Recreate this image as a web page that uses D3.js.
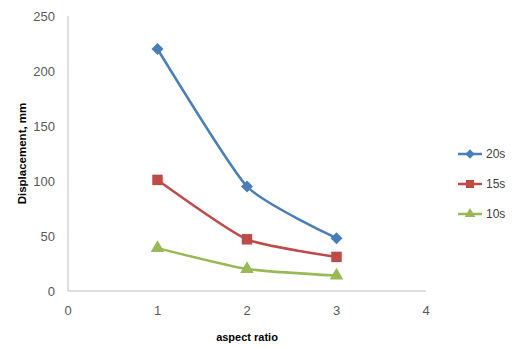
<!DOCTYPE html>
<html>
<head>
<meta charset="utf-8">
<script src="https://cdn.jsdelivr.net/npm/d3@7"></script>
<style>
  body { margin: 0; background: #fff; }
  svg { display: block; font-family: "Liberation Sans", Arial, sans-serif; }
</style>
</head>
<body>
<div id="chart"></div>
<script>
// chart values
const aspectRatio = [1, 2, 3];
const seriesNames = ["20s", "15s", "10s"];
const disp20 = [220, 95, 48];
const disp15 = [101, 47, 31];
const disp10 = [39, 20, 14];
const xTicks = [0, 1, 2, 3, 4];
const yTicks = [0, 50, 100, 150, 200, 250];

let width = 515, height = 347,
    margin = { top: 16, left: 68, right: 89, bottom: 56 };

// diamond = square turned 45 degrees (Excel style)
let series = [
    { name: seriesNames[0], values: disp20, color: "#4a7ebb", symbol: d3.symbolSquare, size: 72, rot: 45 },
    { name: seriesNames[1], values: disp15, color: "#be4b48", symbol: d3.symbolSquare, size: 110, rot: 0 },
    { name: seriesNames[2], values: disp10, color: "#98b954", symbol: d3.symbolTriangle, size: 80, rot: 0 }
];

let svg = d3.select("#chart").append("svg")
    .attr("width", width)
    .attr("height", height);

let x = d3.scaleLinear().domain([0, 4]).range([margin.left, width - margin.right]);
let y = d3.scaleLinear().domain([0, 250]).range([height - margin.bottom, margin.top]);

// axes lines
svg.append("line")
    .attr("x1", x(0)).attr("x2", x(0))
    .attr("y1", y(250)).attr("y2", y(0))
    .attr("stroke", "#bfbfbf").attr("stroke-width", 1);
svg.append("line")
    .attr("x1", x(0)).attr("x2", x(4))
    .attr("y1", y(0)).attr("y2", y(0))
    .attr("stroke", "#bfbfbf").attr("stroke-width", 1);

// tick labels
svg.append("g").selectAll("text")
    .data(yTicks)
    .enter().append("text")
    .attr("x", x(0) - 13)
    .attr("y", d => y(d))
    .attr("dy", "0.35em")
    .attr("text-anchor", "end")
    .attr("fill", "#595959")
    .style("font-size", "13px")
    .text(d => d);

svg.append("g").selectAll("text")
    .data(xTicks)
    .enter().append("text")
    .attr("x", d => x(d))
    .attr("y", y(0) + 24)
    .attr("text-anchor", "middle")
    .attr("fill", "#595959")
    .style("font-size", "13px")
    .text(d => d);

// axis titles
svg.append("text")
    .attr("x", (x(0) + x(4)) / 2)
    .attr("y", 341)
    .attr("text-anchor", "middle")
    .attr("fill", "#000")
    .style("font-size", "11px")
    .style("font-weight", "bold")
    .text("aspect ratio");

svg.append("text")
    .attr("transform", "translate(22," + y(125) + ") rotate(-90)")
    .attr("text-anchor", "middle")
    .attr("dy", "0.35em")
    .attr("fill", "#000")
    .style("font-size", "11.5px")
    .style("font-weight", "bold")
    .text("Displacement, mm");

// lines + markers
let line = d3.line()
    .x((d, i) => x(aspectRatio[i]))
    .y(d => y(d))
    .curve(d3.curveCardinal.tension(0.45));

series.forEach(s => {
    svg.append("path")
        .datum(s.values)
        .attr("d", line)
        .attr("fill", "none")
        .attr("stroke", s.color)
        .attr("stroke-width", 2.5);

    svg.append("g").selectAll("path")
        .data(s.values)
        .enter().append("path")
        .attr("transform", (d, i) => "translate(" + x(aspectRatio[i]) + "," + y(d) + ") rotate(" + s.rot + ")")
        .attr("d", d3.symbol().type(s.symbol).size(s.size))
        .attr("fill", s.color);
});

// legend
let legend = svg.append("g")
    .selectAll("g")
    .data(series)
    .enter().append("g")
    .attr("transform", (d, i) => "translate(458," + (154 + i * 30) + ")");

legend.append("line")
    .attr("x1", 0).attr("x2", 24)
    .attr("stroke", d => d.color)
    .attr("stroke-width", 2.5);

legend.append("path")
    .attr("transform", d => "translate(12,0) rotate(" + d.rot + ")")
    .attr("d", d => d3.symbol().type(d.symbol).size(d.size * 0.6)())
    .attr("fill", d => d.color);

legend.append("text")
    .attr("x", 28)
    .attr("dy", "0.35em")
    .attr("fill", "#404040")
    .style("font-size", "12px")
    .text(d => d.name);
</script>
</body>
</html>
